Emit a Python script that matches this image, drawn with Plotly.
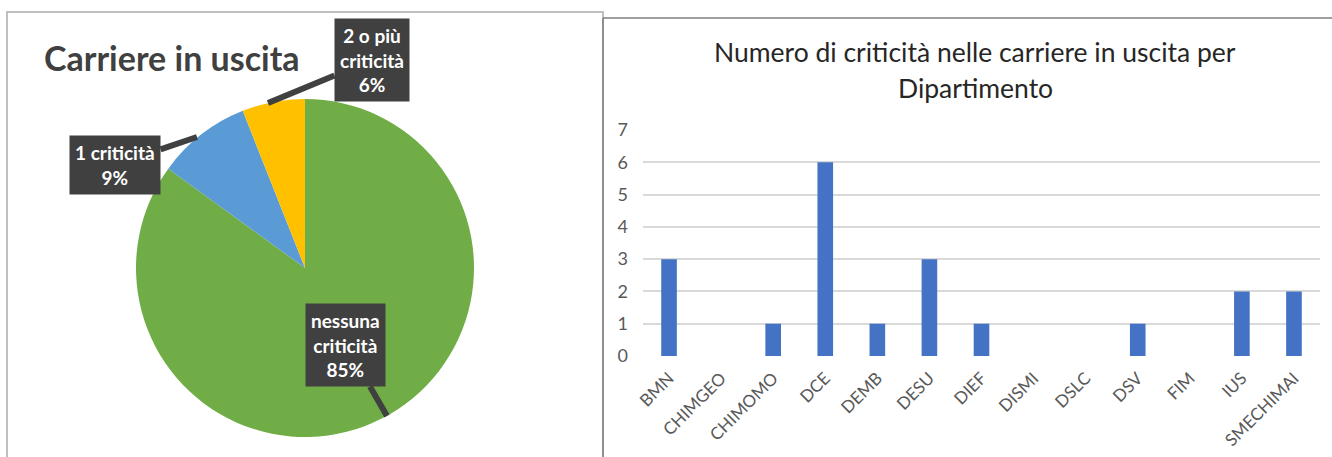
import plotly.graph_objects as go

# ---- data ----
pie_labels = ["nessuna criticità", "1 criticità", "2 o più criticità"]
pie_values = [85, 9, 6]
pie_colors = ["#70ad47", "#5b9bd5", "#ffc000"]

departments = ["BMN", "CHIMGEO", "CHIMOMO", "DCE", "DEMB", "DESU", "DIEF",
               "DISMI", "DSLC", "DSV", "FIM", "IUS", "SMECHIMAI"]
criticita = [3, 0, 1, 6, 1, 3, 1, 0, 0, 1, 0, 2, 2]

W, H = 1332, 457


def px(x):
    return x / W


def py(y):
    return 1 - y / H


fig = go.Figure()

fig.add_trace(go.Pie(
    labels=pie_labels, values=pie_values,
    marker=dict(colors=pie_colors, line=dict(width=0)),
    sort=False, direction="clockwise", rotation=0,
    textinfo="none", hoverinfo="label+percent", automargin=False,
    domain=dict(x=[px(305 - 169), px(305 + 169)], y=[py(268 + 169), py(268 - 169)]),
    showlegend=False,
))

fig.add_trace(go.Bar(
    x=departments, y=criticita,
    marker=dict(color="#4472c4", line=dict(width=0)),
    width=0.3, showlegend=False, xaxis="x", yaxis="y",
))

fig.update_layout(
    width=W, height=H, autosize=False,
    margin=dict(l=0, r=0, t=0, b=0, pad=0, autoexpand=False),
    paper_bgcolor="white", plot_bgcolor="white",
    font=dict(family="Lato", color="#595959"),
    xaxis=dict(domain=[px(643), px(1320)], showgrid=False, showline=False,
               tickangle=-45, tickfont=dict(size=17, color="#595959"),
               ticks="", fixedrange=True, automargin=False,
               ticklabelstandoff=8),
    yaxis=dict(domain=[py(356), py(130)], range=[0, 7], dtick=1,
               gridcolor="#d9d9d9", gridwidth=1.5, zeroline=False,
               showline=False, tickfont=dict(size=18, color="#595959"),
               ticks="", ticklabelstandoff=14, automargin=False),
)

# borders
fig.add_shape(type="rect", xref="paper", yref="paper",
              x0=px(7), x1=px(603), y0=py(470), y1=py(12),
              line=dict(color="#bfbfbf", width=2), layer="below")
fig.add_shape(type="line", xref="paper", yref="paper",
              x0=px(603), x1=px(1340), y0=py(18), y1=py(18),
              line=dict(color="#7f7f7f", width=1.5))
fig.add_shape(type="line", xref="paper", yref="paper",
              x0=px(603), x1=px(603), y0=py(18), y1=py(470),
              line=dict(color="#7f7f7f", width=1.5))

# titles
fig.add_annotation(xref="paper", yref="paper", x=px(42), y=py(58),
                   xanchor="left", yanchor="middle", showarrow=False,
                   text="<b>Carriere in uscita</b>",
                   font=dict(family="Lato", size=34, color="#404040"))
fig.add_annotation(xref="paper", yref="paper", x=px(975), y=py(52),
                   xanchor="center", yanchor="middle", showarrow=False,
                   text="Numero di criticità nelle carriere in uscita per",
                   font=dict(family="Lato", size=26.5, color="#262626"))
fig.add_annotation(xref="paper", yref="paper", x=px(975), y=py(88),
                   xanchor="center", yanchor="middle", showarrow=False,
                   text="Dipartimento",
                   font=dict(family="Lato", size=26.5, color="#262626"))

# pie callouts
callouts = [
    ("2 o più<br>criticità<br>6%", (268, 103), (372, 60)),
    ("1 criticità<br>9%", (197, 137), (115, 165)),
    ("nessuna<br>criticità<br>85%", (387, 416), (346, 345)),
]
for text, tip, box in callouts:
    fig.add_annotation(xref="paper", yref="paper", x=px(tip[0]), y=py(tip[1]),
                       ax=box[0] - tip[0], ay=box[1] - tip[1],
                       showarrow=True, arrowhead=0, arrowwidth=6,
                       arrowcolor="#404040", standoff=0,
                       text="<b>" + text + "</b>", align="center",
                       bgcolor="#404040", borderpad=5,
                       font=dict(family="Lato", size=19, color="white"))

fig.write_html(
    "out.html",
    config={"displayModeBar": False},
    post_script=(
        "var d=document.getElementById('{plot_id}');"
        "d.style.position='fixed';d.style.left='0px';d.style.top='0px';"
        "document.body.style.margin='0';"
        "document.body.style.overflow='hidden';"
        "document.documentElement.style.overflow='hidden';"
    ),
)
